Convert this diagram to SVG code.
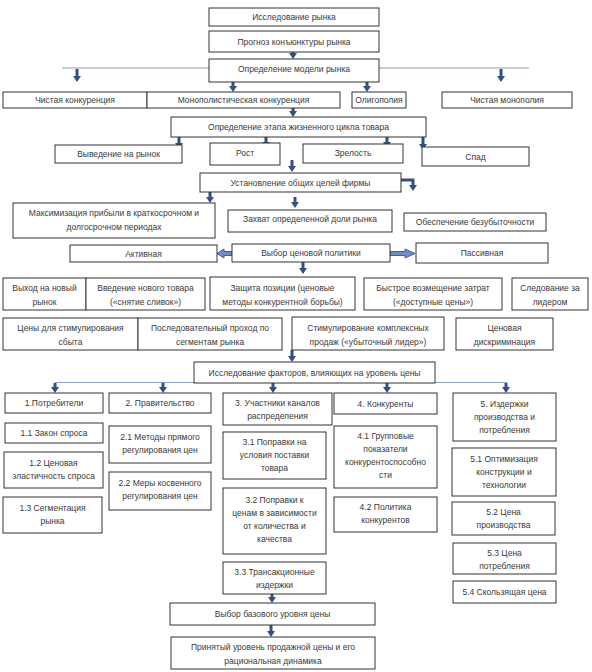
<svg xmlns="http://www.w3.org/2000/svg" width="592" height="672" viewBox="0 0 592 672">
<style>
.box{fill:#fff;stroke:#333;stroke-width:1}
.t{font-family:"Liberation Sans",Arial,sans-serif;font-size:8.5px;fill:#3a3a3a;text-anchor:middle}
.arr{stroke:#34507f;stroke-width:3;fill:none;marker-end:url(#ah)}
.ln{stroke:#8aa2c6;stroke-width:1.2;fill:none}
.blk{fill:#6e8ec4;stroke:#3f5f96;stroke-width:1}
</style>
<defs>
<marker id="ah" viewBox="0 0 6 8" refX="1" refY="4" markerWidth="6" markerHeight="8" markerUnits="userSpaceOnUse" orient="auto"><path d="M0,0L6,4L0,8z" fill="#34507f"/></marker>
</defs>
<rect width="592" height="672" fill="#fff"/>
<g id="connectors">
<path class="ln" d="M62,68H209M379,68H529"/>
<path class="ln" d="M55,382.5H507"/>
<path class="arr" d="M293,52V54"/>
<path class="arr" d="M77,69V77"/>
<path class="arr" d="M233,82V87"/>
<path class="arr" d="M367,82V87"/>
<path class="arr" d="M501,69V77"/>
<path class="arr" d="M293,108V112"/>
<path class="arr" d="M179,137V144"/>
<path class="arr" d="M266,137V143"/>
<path class="arr" d="M292,160V167"/>
<path class="arr" d="M387,137V143"/>
<path class="arr" d="M423,137V145"/>
<path class="arr" d="M210,192V198"/>
<path class="arr" d="M295,197V203"/>
<path class="arr" d="M401,180H413V186"/>
<polygon class="blk" points="232,251.5 224,251.5 224,249 217,253.5 224,258 224,255.5 232,255.5"/>
<polygon class="blk" points="390,251.5 405,251.5 405,249 415,253.5 405,258 405,255.5 390,255.5"/>
<path class="arr" d="M303,262V269"/>
<path class="arr" d="M292,350V357"/>
<path class="arr" d="M55,383V388"/>
<path class="arr" d="M163,383V388"/>
<path class="arr" d="M273,383V388"/>
<path class="arr" d="M387,383V388"/>
<path class="arr" d="M506,383V388"/>
<path class="arr" d="M272,594V598"/>
<path class="arr" d="M271,625V632"/>
</g>
<g id="n1"><rect class="box" x="209" y="8" width="170" height="18"/><text class="t" x="294" y="20">Исследование рынка</text></g>
<g id="n2"><rect class="box" x="209" y="31" width="170" height="21"/><text class="t" x="294" y="44.5">Прогноз конъюнктуры рынка</text></g>
<g id="n3"><rect class="box" x="209" y="59" width="170" height="23"/><text class="t" x="294" y="72">Определение модели рынка</text></g>
<g id="n4"><rect class="box" x="3" y="92" width="144" height="16"/><text class="t" x="75" y="103">Чистая конкуренция</text></g>
<g id="n5"><rect class="box" x="147" y="92" width="193" height="16"/><text class="t" x="243.5" y="103">Монополистическая конкуренция</text></g>
<g id="n6"><rect class="box" x="352" y="92" width="54" height="16"/><text class="t" x="379" y="103">Олигополия</text></g>
<g id="n7"><rect class="box" x="442" y="92" width="130" height="16"/><text class="t" x="507" y="103">Чистая монополия</text></g>
<g id="n8"><rect class="box" x="171" y="117" width="255" height="20"/><text class="t" x="298.5" y="130">Определение этапа жизненного цикла товара</text></g>
<g id="n9"><rect class="box" x="55" y="145" width="127" height="18"/><text class="t" x="118.5" y="156.5">Выведение на рынок</text></g>
<g id="n10"><rect class="box" x="210" y="143" width="70" height="22"/><text class="t" x="245" y="156">Рост</text></g>
<g id="n11"><rect class="box" x="303" y="144" width="100" height="19"/><text class="t" x="353" y="156">Зрелость</text></g>
<g id="n12"><rect class="box" x="422" y="147" width="107" height="19"/><text class="t" x="475.5" y="159.5">Спад</text></g>
<g id="n13"><rect class="box" x="200" y="173" width="201" height="19"/><text class="t" x="300.5" y="185.5">Установление общих целей фирмы</text></g>
<g id="n14"><rect class="box" x="13" y="203" width="202" height="35"/><text class="t" x="114" y="216">Максимизация прибыли в краткосрочном и</text><text class="t" x="114" y="230">долгосрочном периодах</text></g>
<g id="n15"><rect class="box" x="228" y="210" width="164" height="22"/><text class="t" x="310" y="222">Захват определенной доли рынка</text></g>
<g id="n16"><rect class="box" x="404" y="213" width="142" height="18"/><text class="t" x="475" y="225">Обеспечение безубыточности</text></g>
<g id="n17"><rect class="box" x="70" y="245" width="147" height="17"/><text class="t" x="143.5" y="256.5">Активная</text></g>
<g id="n18"><rect class="box" x="232" y="244" width="158" height="18"/><text class="t" x="311" y="256">Выбор ценовой политики</text></g>
<g id="n19"><rect class="box" x="416" y="243" width="132" height="20"/><text class="t" x="482" y="256">Пассивная</text></g>
<g id="n20"><rect class="box" x="3" y="278" width="83" height="32"/><text class="t" x="44.5" y="291">Выход на новый</text><text class="t" x="44.5" y="305">рынок</text></g>
<g id="n21"><rect class="box" x="86" y="278" width="119" height="32"/><text class="t" x="145.5" y="291">Введение нового товара</text><text class="t" x="145.5" y="305">(«снятие сливок»)</text></g>
<g id="n22"><rect class="box" x="210" y="277" width="145" height="33"/><text class="t" x="282.5" y="290.5">Защита позиции (ценовые</text><text class="t" x="282.5" y="304.5">методы конкурентной борьбы)</text></g>
<g id="n23"><rect class="box" x="364" y="278" width="138" height="32"/><text class="t" x="433" y="291">Быстрое возмещение затрат</text><text class="t" x="433" y="305">(«доступные цены»)</text></g>
<g id="n24"><rect class="box" x="512" y="278" width="76" height="32"/><text class="t" x="550" y="291">Следование за</text><text class="t" x="550" y="305">лидером</text></g>
<g id="n25"><rect class="box" x="3" y="318" width="135" height="32"/><text class="t" x="70.5" y="331">Цены для стимулирования</text><text class="t" x="70.5" y="345">сбыта</text></g>
<g id="n26"><rect class="box" x="138" y="318" width="144" height="32"/><text class="t" x="210" y="331">Последовательный проход по</text><text class="t" x="210" y="345">сегментам рынка</text></g>
<g id="n27"><rect class="box" x="292" y="317" width="152" height="33"/><text class="t" x="368" y="330.5">Стимулирование комплексных</text><text class="t" x="368" y="344.5">продаж («убыточный лидер»)</text></g>
<g id="n28"><rect class="box" x="456" y="318" width="97" height="32"/><text class="t" x="504.5" y="331">Ценовая</text><text class="t" x="504.5" y="345">дискриминация</text></g>
<g id="n29"><rect class="box" x="194" y="362" width="241" height="21"/><text class="t" x="314.5" y="375.5">Исследование факторов, влияющих на уровень цены</text></g>
<g id="n30"><rect class="box" x="5" y="393" width="98" height="20"/><text class="t" x="54" y="406">1.Потребители</text></g>
<g id="n31"><rect class="box" x="109" y="393" width="102" height="20"/><text class="t" x="160" y="406">2. Правительство</text></g>
<g id="n32"><rect class="box" x="223" y="393" width="109" height="32"/><text class="t" x="277.5" y="406">3. Участники каналов</text><text class="t" x="277.5" y="419">распределения</text></g>
<g id="n33"><rect class="box" x="334" y="393" width="103" height="21"/><text class="t" x="385.5" y="406.5">4. Конкуренты</text></g>
<g id="n34"><rect class="box" x="453" y="393" width="103" height="48"/><text class="t" x="504.5" y="407">5. Издержки</text><text class="t" x="504.5" y="420">производства и</text><text class="t" x="504.5" y="433">потребления</text></g>
<g id="n35"><rect class="box" x="5" y="423" width="98" height="20"/><text class="t" x="54" y="436">1.1 Закон спроса</text></g>
<g id="n36"><rect class="box" x="4" y="452" width="99" height="36"/><text class="t" x="53.5" y="466">1.2 Ценовая</text><text class="t" x="53.5" y="479">эластичность спроса</text></g>
<g id="n37"><rect class="box" x="109" y="426" width="102" height="37"/><text class="t" x="160" y="440">2.1 Методы прямого</text><text class="t" x="160" y="453">регулирования цен</text></g>
<g id="n38"><rect class="box" x="109" y="472" width="102" height="38"/><text class="t" x="160" y="486">2.2 Меры косвенного</text><text class="t" x="160" y="499">регулирования цен</text></g>
<g id="n39"><rect class="box" x="223" y="432" width="103" height="47"/><text class="t" x="274.5" y="445">3.1 Поправки на</text><text class="t" x="274.5" y="458">условия поставки</text><text class="t" x="274.5" y="471">товара</text></g>
<g id="n40"><rect class="box" x="334" y="426" width="103" height="62"/><text class="t" x="385.5" y="439">4.1 Групповые</text><text class="t" x="385.5" y="452">показатели</text><text class="t" x="385.5" y="465">конкурентоспособно</text><text class="t" x="385.5" y="478">сти</text></g>
<g id="n41"><rect class="box" x="452" y="448" width="104" height="48"/><text class="t" x="504" y="462">5.1 Оптимизация</text><text class="t" x="504" y="475">конструкции и</text><text class="t" x="504" y="488">технологии</text></g>
<g id="n42"><rect class="box" x="3" y="497" width="99" height="36"/><text class="t" x="52.5" y="511">1.3 Сегментация</text><text class="t" x="52.5" y="524">рынка</text></g>
<g id="n43"><rect class="box" x="223" y="488" width="103" height="66"/><text class="t" x="274.5" y="503">3.2 Поправки к</text><text class="t" x="274.5" y="516">ценам в зависимости</text><text class="t" x="274.5" y="529">от количества и</text><text class="t" x="274.5" y="542">качества</text></g>
<g id="n44"><rect class="box" x="223" y="562" width="103" height="32"/><text class="t" x="274.5" y="575">3.3 Трансакционные</text><text class="t" x="274.5" y="588">издержки</text></g>
<g id="n45"><rect class="box" x="334" y="497" width="103" height="35"/><text class="t" x="385.5" y="510">4.2 Политика</text><text class="t" x="385.5" y="523">конкурентов</text></g>
<g id="n46"><rect class="box" x="452" y="502" width="103" height="33"/><text class="t" x="503.5" y="515">5.2 Цена</text><text class="t" x="503.5" y="528">производства</text></g>
<g id="n47"><rect class="box" x="453" y="543" width="103" height="31"/><text class="t" x="504.5" y="556">5.3 Цена</text><text class="t" x="504.5" y="569">потребления</text></g>
<g id="n48"><rect class="box" x="453" y="581" width="103" height="22"/><text class="t" x="504.5" y="595">5.4 Скользящая цена</text></g>
<g id="n49"><rect class="box" x="170" y="603" width="205" height="22"/><text class="t" x="272.5" y="617">Выбор базового уровня цены</text></g>
<g id="n50"><rect class="box" x="171" y="637" width="204" height="32"/><text class="t" x="273" y="650">Принятый уровень продажной цены и его</text><text class="t" x="273" y="664">рациональная динамика</text></g>
</svg>
